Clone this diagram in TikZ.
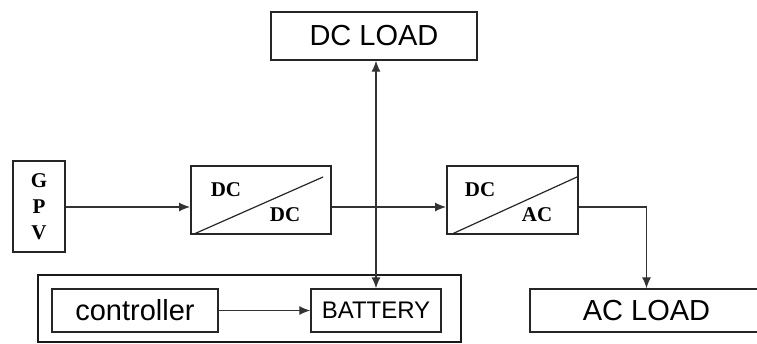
\documentclass[tikz,border=0pt]{standalone}
\usepackage{fontspec}
\setmainfont{Liberation Serif}
\newfontfamily\arialf{Liberation Sans}
\usetikzlibrary{arrows.meta,calc}
\tikzset{
  box/.style={draw=black!85, line width=1.4pt, inner sep=0pt, font=\arialf\fontsize{29}{34}\selectfont},
  conv/.style={draw=black!85, line width=2pt, inner sep=0pt},
  conn/.style={draw=black!80, line width=1.2pt, -{Latex[length=11pt,width=9pt]}},
  lbl/.style={inner sep=0pt, font=\bfseries\fontsize{21}{26}\selectfont},
}
\begin{document}
\begin{tikzpicture}[x=1pt,y=-1pt]
\clip (0,0) rectangle (757,343);
\fill[white] (0,0) rectangle (757,343);
% boxes
\node[box, minimum width=206pt, minimum height=48pt] (dcload) at (374,36) {DC LOAD};
\node[conv, minimum width=52pt, minimum height=91pt, align=center, font=\bfseries\fontsize{21}{26}\selectfont] (gpv) at (39,206.5) {G\\P\\V};
\node[conv, minimum width=140pt, minimum height=68pt] (dcdc) at (261,200) {};
\node[conv, minimum width=131pt, minimum height=68pt] (dcac) at (512.5,200) {};
\node[draw=black!90, line width=2.6pt, minimum width=423pt, minimum height=67pt] (outer) at (249.5,308.5) {};
\node[box, minimum width=166pt, minimum height=43pt] (ctrl) at (135,310.5) {controller};
\node[box, minimum width=130pt, minimum height=43pt, font=\arialf\fontsize{24}{28}\selectfont] (batt) at (376,310.5) {BATTERY};
\node[box, minimum width=233pt, minimum height=43pt] (acload) at (646.5,310.5) {AC LOAD};
% converter diagonals and labels
\draw[black!85, line width=1.2pt] ($(dcdc.south west)+(4,-1)$) -- ($(dcdc.north east)+(-9,12)$);
\draw[black!85, line width=1.2pt] ($(dcac.south west)+(6,-1)$) -- ($(dcac.north east)+(-2,12)$);
\node[lbl] (l1) at (226,190) {DC};
\node[lbl] (l2) at (285,215) {DC};
\node[lbl] (l3) at (480,190) {DC};
\node[lbl] (l4) at (537,215) {AC};
% connectors
\coordinate (m) at (0,207);
\draw[conn] (gpv.east |- m) -- (dcdc.west |- m);
\draw[conn] (dcdc.east |- m) -- (dcac.west |- m);
\draw[conn] (dcac.east |- m) -| (acload.north);
\draw[conn] (ctrl.east) -- (batt.west);
\draw[conn, {Latex[length=11pt,width=9pt]}-{Latex[length=11pt,width=9pt]}] (batt.north |- dcload.south) -- (batt.north);
\end{tikzpicture}
\end{document}
